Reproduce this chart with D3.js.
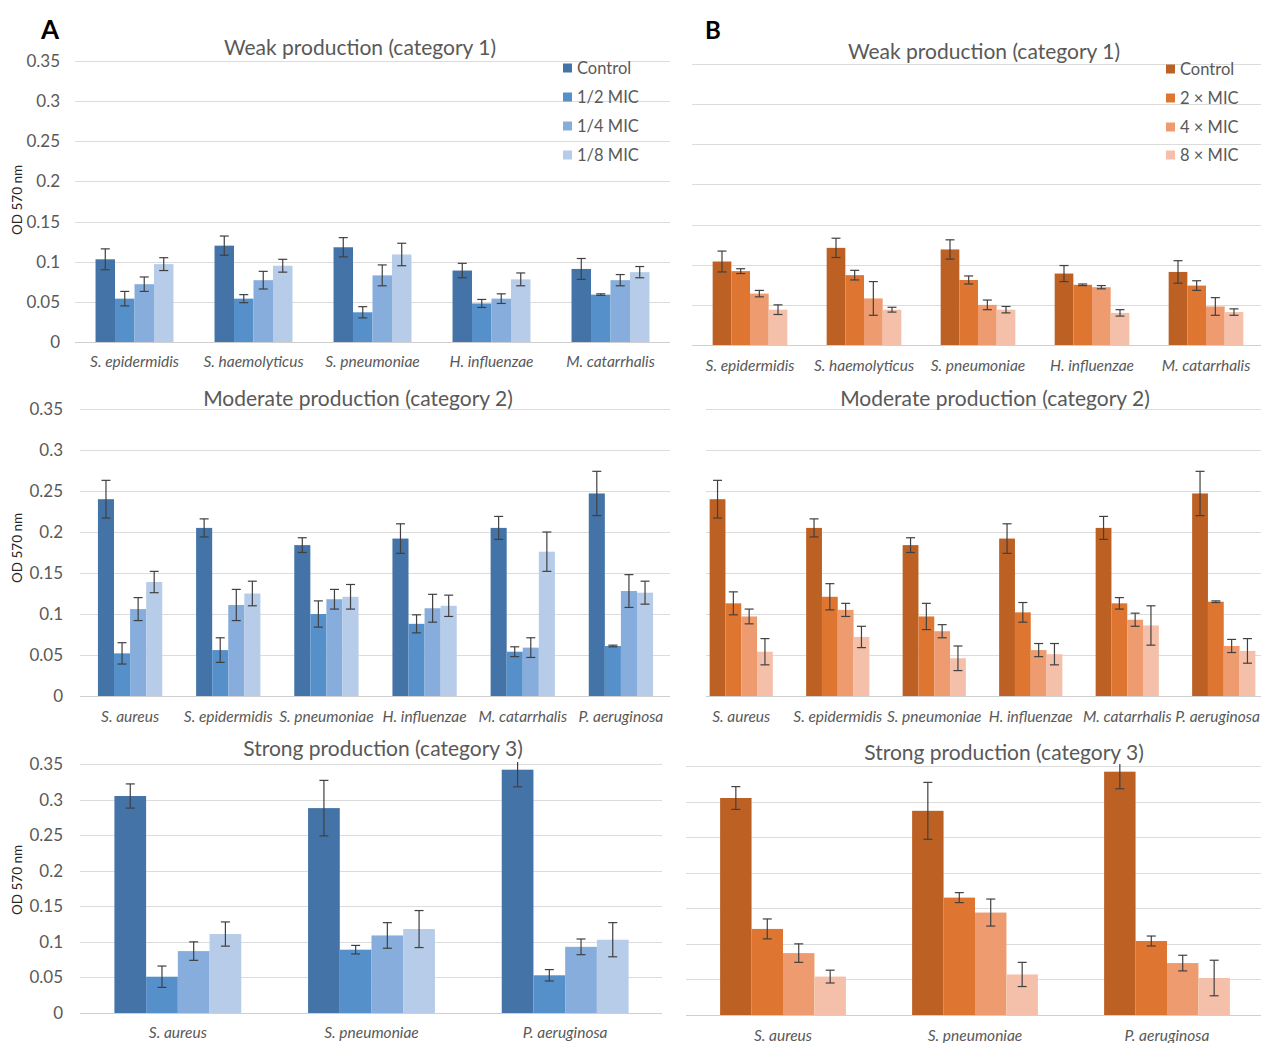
<!DOCTYPE html>
<html><head><meta charset="utf-8">
<script src="https://cdn.jsdelivr.net/npm/d3@7"></script>
<style>
html,body{margin:0;padding:0;background:#fff;}
svg{display:block;}
text{font-family:Lato,"Open Sans",sans-serif;}
</style></head>
<body>
<svg id="chart" width="1261" height="1043"></svg>
<script>
// ---------------- DATA ----------------
const seriesA = ["Control", "1/2 MIC", "1/4 MIC", "1/8 MIC"];
const seriesB = ["Control", "2 × MIC", "4 × MIC", "8 × MIC"];
const colorsA = ["#4474a7", "#5590cb", "#86addc", "#b7cce8"];
const colorsB = ["#bc6024", "#de7631", "#ee9b70", "#f4c0a9"];

const cat1 = ["S. epidermidis", "S. haemolyticus", "S. pneumoniae", "H. influenzae", "M. catarrhalis"];
const cat2 = ["S. aureus", "S. epidermidis", "S. pneumoniae", "H. influenzae", "M. catarrhalis", "P. aeruginosa"];
const cat3 = ["S. aureus", "S. pneumoniae", "P. aeruginosa"];

const yTickValues = [0, 0.05, 0.1, 0.15, 0.2, 0.25, 0.3, 0.35];
const yTickLabels = ["0", "0.05", "0.1", "0.15", "0.2", "0.25", "0.3", "0.35"];

// means per category, in series order
const a1Mean = [[0.103,0.054,0.072,0.097],[0.120,0.054,0.077,0.095],[0.118,0.037,0.083,0.109],[0.089,0.048,0.054,0.078],[0.091,0.059,0.077,0.087]];
const a1Err  = [[0.013,0.009,0.009,0.008],[0.012,0.005,0.011,0.008],[0.012,0.007,0.013,0.014],[0.009,0.005,0.006,0.008],[0.013,0.001,0.007,0.007]];
const b1Mean = [[0.104,0.092,0.064,0.044],[0.121,0.087,0.058,0.044],[0.119,0.081,0.050,0.044],[0.089,0.075,0.072,0.040],[0.091,0.074,0.048,0.041]];
const b1Err  = [[0.013,0.003,0.004,0.006],[0.012,0.006,0.021,0.003],[0.012,0.005,0.006,0.004],[0.010,0.001,0.002,0.004],[0.014,0.006,0.011,0.004]];
const a2Mean = [[0.240,0.052,0.106,0.139],[0.205,0.056,0.111,0.125],[0.184,0.100,0.118,0.121],[0.192,0.088,0.107,0.110],[0.205,0.054,0.059,0.176],[0.247,0.061,0.128,0.126]];
const a2Err  = [[0.023,0.013,0.014,0.013],[0.011,0.015,0.019,0.015],[0.009,0.016,0.012,0.015],[0.018,0.011,0.017,0.013],[0.014,0.006,0.012,0.024],[0.027,0.001,0.020,0.014]];
const b2Mean = [[0.240,0.113,0.097,0.054],[0.205,0.121,0.105,0.072],[0.184,0.097,0.079,0.046],[0.192,0.102,0.056,0.051],[0.205,0.113,0.093,0.086],[0.247,0.115,0.061,0.055]];
const b2Err  = [[0.023,0.014,0.009,0.016],[0.011,0.016,0.008,0.013],[0.009,0.016,0.008,0.015],[0.018,0.012,0.008,0.013],[0.014,0.007,0.008,0.024],[0.027,0.001,0.008,0.015]];
const a3Mean = [[0.305,0.051,0.087,0.111],[0.288,0.089,0.109,0.118],[0.342,0.053,0.093,0.103]];
const a3Err  = [[0.017,0.015,0.013,0.017],[0.039,0.006,0.018,0.026],[0.024,0.008,0.011,0.024]];
const b3Mean = [[0.305,0.121,0.087,0.054],[0.287,0.165,0.144,0.057],[0.342,0.104,0.073,0.052]];
const b3Err  = [[0.016,0.014,0.013,0.009],[0.040,0.007,0.019,0.017],[0.024,0.007,0.011,0.025]];

const titles = ["Weak production (category 1)", "Moderate production (category 2)", "Strong production (category 3)"];
const yAxisTitle = "OD 570 nm";

// ---------------- LAYOUT ----------------
const W = 1261;
const panels = [
  {id:"a1", cats:cat1, mean:a1Mean, err:a1Err, series:seriesA, colors:colorsA, title:titles[0],
   x0:75, x1:670, top:61, bottom:342, gx0:75, gx1:670, yAxis:true, tickX:60, yTitleY:200,
   tx:360, ty:48, catY:362, legend:{x:563, ys:[68,97,126,155]}},
  {id:"b1", cats:cat1, mean:b1Mean, err:b1Err, series:seriesB, colors:colorsB, title:titles[0],
   x0:693, x1:1263, top:64, bottom:345, gx0:692, gx1:1261, yAxis:false,
   tx:984, ty:52, catY:366, legend:{x:1166, ys:[69,98,127,155]}},
  {id:"a2", cats:cat2, mean:a2Mean, err:a2Err, series:seriesA, colors:colorsA, title:titles[1],
   x0:81, x1:670, top:409, bottom:696, gx0:80, gx1:670, yAxis:true, tickX:63, yTitleY:548,
   tx:358, ty:399, catY:717},
  {id:"b2", cats:cat2, mean:b2Mean, err:b2Err, series:seriesB, colors:colorsB, title:titles[1],
   x0:693, x1:1272, top:409, bottom:696, gx0:706, gx1:1261, yAxis:false,
   tx:995, ty:399, catY:717},
  {id:"a3", cats:cat3, mean:a3Mean, err:a3Err, series:seriesA, colors:colorsA, title:titles[2],
   x0:81, x1:662, top:764, bottom:1013, gx0:80, gx1:662, yAxis:true, tickX:63, yTitleY:880,
   tx:383, ty:749, catY:1033},
  {id:"b3", cats:cat3, mean:b3Mean, err:b3Err, series:seriesB, colors:colorsB, title:titles[2],
   x0:687, x1:1263, top:766, bottom:1015, gx0:686, gx1:1261, yAxis:false,
   tx:1004, ty:753, catY:1036}
];

const svg = d3.select("#chart");
const defs = svg.append("defs");

panels.forEach(p => {
  const g = svg.append("g").attr("class", "panel-" + p.id);
  const y = d3.scaleLinear().domain([0, 0.35]).range([p.bottom, p.top]);
  const x = d3.scaleBand().domain(p.cats).range([p.x0, p.x1]).paddingInner(0.345).paddingOuter(0.1725);
  const xs = d3.scaleBand().domain(p.series).range([0, x.bandwidth()]);

  // gridlines
  g.append("g").selectAll("line").data(yTickValues).join("line")
    .attr("x1", p.gx0).attr("x2", p.gx1)
    .attr("y1", d => Math.round(y(d)) + 0.5).attr("y2", d => Math.round(y(d)) + 0.5)
    .attr("stroke", d => d === 0 ? "#cfcfcf" : "#dcdcdc").attr("stroke-width", 1.2);

  // y tick labels
  if (p.yAxis) {
    g.append("g").selectAll("text").data(yTickValues).join("text")
      .attr("x", p.tickX).attr("y", d => y(d)).attr("dy", "0.35em")
      .attr("text-anchor", "end").attr("fill", "#595959").attr("font-size", 17)
      .text((d, i) => yTickLabels[i]);
    g.append("text")
      .attr("transform", `translate(17,${p.yTitleY}) rotate(-90)`)
      .attr("text-anchor", "middle").attr("dy", "0.35em")
      .attr("fill", "#262626").attr("font-size", 13.5).text(yAxisTitle);
  }

  // clip for error bars
  defs.append("clipPath").attr("id", "clip-" + p.id).append("rect")
    .attr("x", p.x0 - 10).attr("y", p.top - 2).attr("width", p.x1 - p.x0 + 20).attr("height", p.bottom - p.top + 4);

  // bars
  const groups = g.append("g").selectAll("g").data(p.cats).join("g")
    .attr("transform", d => `translate(${x(d)},0)`);
  groups.selectAll("rect").data((d, i) => p.mean[i].map((v, j) => ({s: p.series[j], v, e: p.err[i][j], j})))
    .join("rect")
    .attr("x", d => xs(d.s)).attr("width", xs.bandwidth())
    .attr("y", d => y(d.v)).attr("height", d => y(0) - y(d.v))
    .attr("fill", d => p.colors[d.j]);

  // error bars
  const eg = g.append("g").attr("clip-path", `url(#clip-${p.id})`);
  p.cats.forEach((c, i) => {
    p.mean[i].forEach((v, j) => {
      const cx = x(c) + xs(p.series[j]) + xs.bandwidth() / 2;
      const e = p.err[i][j];
      const hi = y(v + e), lo = y(v - e);
      const cap = 4.5;
      const ebar = eg.append("g").attr("stroke", "#404040").attr("stroke-width", 1.2);
      ebar.append("line").attr("x1", cx).attr("x2", cx).attr("y1", hi).attr("y2", lo);
      ebar.append("line").attr("x1", cx - cap).attr("x2", cx + cap).attr("y1", hi).attr("y2", hi);
      ebar.append("line").attr("x1", cx - cap).attr("x2", cx + cap).attr("y1", lo).attr("y2", lo);
    });
  });

  // category labels
  const cl = g.append("g").selectAll("text").data(p.cats).join("text")
    .attr("x", d => x(d) + x.bandwidth() / 2).attr("y", p.catY).attr("dy", "0.35em")
    .attr("text-anchor", "middle").attr("font-style", "italic")
    .attr("fill", "#595959").attr("font-size", 15.5).text(d => d);
  // keep labels inside the picture
  cl.each(function() {
    const bb = this.getBBox();
    if (bb.x + bb.width > W - 1) {
      d3.select(this).attr("x", +d3.select(this).attr("x") - (bb.x + bb.width - (W - 1)));
    }
  });

  // title
  g.append("text").attr("x", p.tx).attr("y", p.ty).attr("dy", "0.35em")
    .attr("text-anchor", "middle").attr("fill", "#595959").attr("font-size", 21).text(p.title);

  // legend
  if (p.legend) {
    const lg = g.append("g").selectAll("g").data(p.series).join("g")
      .attr("transform", (d, i) => `translate(${p.legend.x},${p.legend.ys[i]})`);
    lg.append("rect").attr("x", 0).attr("y", -4.5).attr("width", 9).attr("height", 9)
      .attr("fill", (d, i) => p.colors[i]);
    lg.append("text").attr("x", 14).attr("y", 0).attr("dy", "0.35em")
      .attr("fill", "#595959").attr("font-size", 16.5).text(d => d);
  }
});

// panel letters
svg.append("text").attr("x", 50).attr("y", 30).attr("dy", "0.35em").attr("text-anchor", "middle")
  .attr("font-weight", "bold").attr("font-size", 26).attr("fill", "#000").text("A");
svg.append("text").attr("x", 713).attr("y", 31).attr("dy", "0.35em").attr("text-anchor", "middle")
  .attr("font-weight", "bold").attr("font-size", 24).attr("fill", "#000").text("B");
</script>
</body></html>
